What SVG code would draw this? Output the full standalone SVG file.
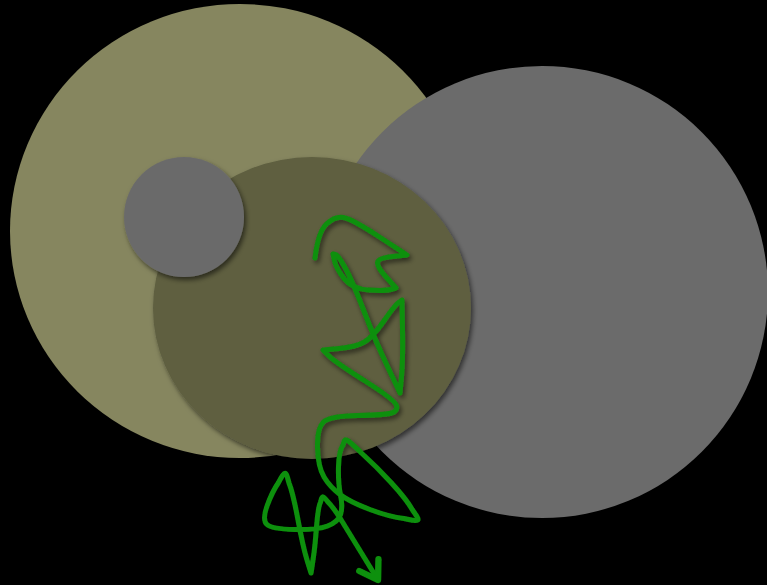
<svg xmlns="http://www.w3.org/2000/svg" width="767" height="585" viewBox="0 0 767 585">
  <defs>
    <filter id="shadow" x="-20%" y="-20%" width="140%" height="140%">
      <feDropShadow dx="2" dy="3" stdDeviation="2.5" flood-color="#000" flood-opacity="0.55"/>
    </filter>
    <marker id="arrow" markerUnits="userSpaceOnUse" markerWidth="30" markerHeight="30" refX="0" refY="0" viewBox="-16 -12 20 24" orient="auto">
      <path d="M -14,-9 L 0,0 L -14,9" fill="none" stroke="#0d900d" stroke-width="5" stroke-linecap="round" stroke-linejoin="round"/>
    </marker>
    <style>
      .olive { fill: #86865f; }
      .gray { fill: #6b6b6b; }
      .dark { fill: #5e5f40; }
      .conn { fill: none; stroke: #0d900d; stroke-width: 5; stroke-linecap: round; stroke-linejoin: round; }
    </style>
  </defs>
  <rect width="767" height="585" fill="#000"/>
  <g id="node-olive-large">
    <ellipse class="olive" cx="240" cy="231" rx="230" ry="227"/>
  </g>
  <g id="node-gray-large">
    <circle class="gray" cx="542" cy="292" r="226"/>
  </g>
  <g id="node-olive-dark" filter="url(#shadow)">
    <ellipse class="dark" cx="312" cy="308" rx="159" ry="151"/>
  </g>
  <g id="node-gray-small" filter="url(#shadow)">
    <circle class="gray" cx="184" cy="217" r="60"/>
  </g>
  <g id="connectors" filter="url(#shadow)">
    <path class="conn" marker-end="url(#arrow)" d="M 315,258 Q 318,232 326.5,224 Q 335,216 343.5,217.5 Q 352,219 379.5,237 L 407,255 L 392.5,256.5 Q 378,258 377.5,262.5 Q 377,267 386.5,277.5 L 396,288 L 390.5,289.5 Q 385,291 368.5,290 Q 352,289 344,278.5 Q 336,268 334.5,261 L 333,254 L 335.5,254.5 Q 338,255 345,267.5 Q 352,280 363.5,310 Q 375,340 387.5,366.5 L 400,393 L 401.5,376.5 Q 403,360 402.5,330 L 402,300 L 398.5,302.5 Q 395,305 383.5,321.5 Q 372,338 363.5,342.5 Q 355,347 339,348.5 L 323,350 L 329,356 Q 335,362 365,381 Q 395,400 396.5,405.5 Q 398,411 391.5,413 Q 385,415 357.5,415.5 Q 330,416 323.5,422 Q 317,428 317.5,447.5 Q 318,467 324,477 Q 330,487 340,494.5 Q 350,502 370,509.5 Q 390,517 404,518.5 C 421,522 421,522 412.5,510 Q 407,500 392,483.5 Q 377,467 362,453.5 C 345,437 345,437 343,445 Q 339,450 338.5,466.5 Q 338,483 340.5,495 Q 343,507 340.5,514.5 Q 338,522 327.5,526 Q 317,530 294.5,529.5 Q 272,529 267,524.5 Q 262,520 267,506 Q 272,492 278.5,482.5 C 285.5,470 285.5,470 289,483 Q 293,493 298,520 Q 303,547 307,560 L 311,573 L 313,560 Q 315,547 316.5,527 Q 318,507 320.5,502 C 322.5,495 322.5,495 328,502 Q 333,507 340,518 L 378,580"/>
  </g>
</svg>
